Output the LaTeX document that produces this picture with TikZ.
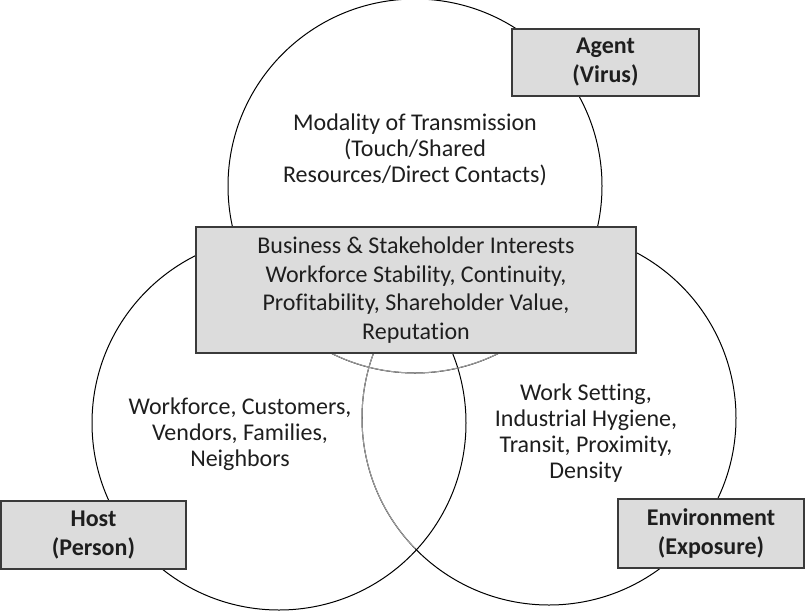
\documentclass[tikz,border=0pt]{standalone}
\usepackage{fontspec}
\setmainfont[Ligatures=NoCommon]{Carlito}
\definecolor{boxfill}{HTML}{DCDCDC}
\definecolor{boxline}{HTML}{3A3A3A}
\definecolor{txt}{HTML}{1E1E1E}
\definecolor{faint}{HTML}{A0A0A0}
\begin{document}
\begin{tikzpicture}[x=1pt,y=-1pt,
  ring/.style={draw=black,line width=1pt},
  faintring/.style={draw=faint,line width=1pt},
  labelbox/.style={draw=boxline,fill=boxfill,line width=1.4pt,inner sep=0pt,align=center,text=txt},
  bodytext/.style={align=center,text=txt,font=\fontsize{24}{26}\selectfont},
  titletext/.style={font=\fontsize{24}{29}\selectfont\bfseries}
]
\useasboundingbox (0,0) rectangle (806,611);
\coordinate (ctop) at (415,186);
\coordinate (cleft) at (279,423);
\coordinate (cright) at (549,418);
\draw[ring] (ctop) circle[radius=187];
\draw[ring] (cleft) circle[radius=187];
\draw[ring] (cright) circle[radius=187];
% lighter arcs
\draw[faintring] (499,353) arc[start angle=63.3,end angle=116.7,radius=187];
\draw[faintring] (373.6,353) arc[start angle=200.3,end angle=135.65,radius=187];
% boxes
\node[labelbox,minimum width=440,minimum height=126,font=\fontsize{24}{28.5}\selectfont] (biz) at (416,290)
  {Business \& Stakeholder Interests\\Workforce Stability, Continuity,\\Profitability, Shareholder Value,\\Reputation};
\node[labelbox,titletext,minimum width=187,minimum height=67] (agent) at (605.5,62.5) {Agent\\(Virus)};
\node[labelbox,titletext,minimum width=185,minimum height=68] (host) at (93.5,535) {Host\\(Person)};
\node[labelbox,titletext,minimum width=186,minimum height=69] (env) at (711,533.5) {Environment\\(Exposure)};
% texts
\node[bodytext] (mod) at (415,150) {Modality of Transmission\\(Touch/Shared\\Resources/Direct Contacts)};
\node[bodytext] (hosttxt) at (240,434) {Workforce, Customers,\\Vendors, Families,\\Neighbors};
\node[bodytext] (envtxt) at (586,433) {Work Setting,\\Industrial Hygiene,\\Transit, Proximity,\\Density};
\end{tikzpicture}
\end{document}
